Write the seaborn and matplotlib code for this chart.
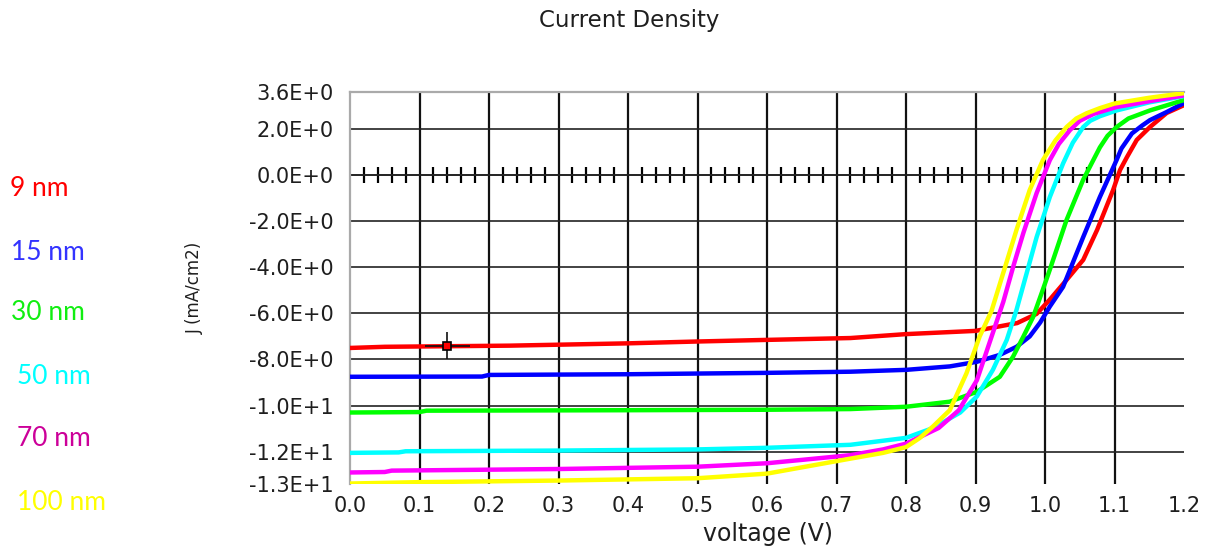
import numpy as np
import pandas as pd
import matplotlib
matplotlib.use("Agg")
import matplotlib.pyplot as plt
import seaborn as sns

# ---- data -------------------------------------------------------------
thickness_labels = ["9 nm", "15 nm", "30 nm", "50 nm", "70 nm", "100 nm"]
curve_colors = ["#ff0000", "#0000ff", "#00ff00", "#00ffff", "#ff00ff", "#ffff00"]
label_colors = ["#ff0000", "#3333ff", "#11ee11", "#00ffff", "#cc0099", "#ffff00"]

v_9nm = [0.0, 0.05, 0.23, 0.40, 0.50, 0.60, 0.72, 0.80, 0.90, 0.96, 0.988,
         1.007, 1.031, 1.055, 1.075, 1.098, 1.108, 1.118, 1.132, 1.151, 1.175, 1.20]
j_9nm = [-7.50, -7.45, -7.40, -7.30, -7.22, -7.15, -7.07, -6.90, -6.76, -6.42, -6.02,
         -5.40, -4.55, -3.68, -2.38, -0.65, 0.22, 0.78, 1.52, 2.08, 2.69, 3.03]

v_15nm = [0.0, 0.19, 0.20, 0.40, 0.60, 0.72, 0.80, 0.863, 0.902, 0.935, 0.959, 0.978,
          0.993, 1.007, 1.026, 1.055, 1.079, 1.103, 1.11, 1.125, 1.14, 1.151, 1.175, 1.20]
j_15nm = [-8.75, -8.74, -8.67, -8.64, -8.58, -8.53, -8.45, -8.30, -8.10, -7.80, -7.45, -7.00,
          -6.40, -5.70, -4.85, -2.69, -0.95, 0.65, 1.15, 1.80, 2.15, 2.38, 2.73, 3.12]

v_30nm = [0.0, 0.10, 0.11, 0.40, 0.60, 0.72, 0.80, 0.863, 0.902, 0.935, 0.954, 0.969,
          0.983, 0.996, 1.007, 1.031, 1.055, 1.079, 1.09, 1.103, 1.12, 1.151, 1.20]
j_30nm = [-10.30, -10.28, -10.22, -10.20, -10.18, -10.15, -10.05, -9.83, -9.40, -8.75, -7.88, -7.00,
          -6.15, -5.05, -4.10, -1.95, -0.20, 1.20, 1.70, 2.08, 2.45, 2.80, 3.25]

v_50nm = [0.0, 0.07, 0.08, 0.30, 0.50, 0.60, 0.72, 0.80, 0.839, 0.878, 0.902, 0.925,
          0.945, 0.959, 0.988, 1.007, 1.026, 1.04, 1.055, 1.065, 1.079, 1.103, 1.15, 1.20]
j_50nm = [-12.05, -12.03, -11.98, -11.95, -11.90, -11.83, -11.70, -11.40, -10.97, -10.30, -9.60, -8.45,
          -7.15, -5.85, -2.69, -0.95, 0.50, 1.40, 2.08, 2.35, 2.55, 2.80, 3.15, 3.42]

v_70nm = [0.0, 0.05, 0.06, 0.30, 0.50, 0.60, 0.72, 0.767, 0.80, 0.847, 0.876, 0.902,
          0.921, 0.940, 0.955, 0.969, 0.988, 1.007, 1.02, 1.036, 1.05, 1.07, 1.103, 1.15, 1.20]
j_70nm = [-12.90, -12.88, -12.82, -12.75, -12.65, -12.50, -12.15, -11.90, -11.65, -10.97, -10.20, -8.90,
          -7.20, -5.50, -3.90, -2.50, -0.78, 0.65, 1.35, 1.95, 2.35, 2.65, 2.95, 3.20, 3.45]

v_100nm = [0.0, 0.10, 0.30, 0.50, 0.60, 0.72, 0.767, 0.80, 0.82, 0.839, 0.863, 0.887, 0.906,
           0.923, 0.959, 0.978, 0.997, 1.015, 1.031, 1.045, 1.06, 1.079, 1.10, 1.15, 1.20]
j_100nm = [-13.38, -13.32, -13.25, -13.15, -12.95, -12.30, -12.05, -11.80, -11.40, -10.90, -10.20, -8.60,
           -7.00, -5.90, -2.38, -0.65, 0.65, 1.50, 2.08, 2.45, 2.68, 2.90, 3.10, 3.35, 3.55]

# cursor readout on the 9 nm curve
cursor_v = 0.14
cursor_j = -7.40

x_tick_values = [0.0, 0.1, 0.2, 0.3, 0.4, 0.5, 0.6, 0.7, 0.8, 0.9, 1.0, 1.1, 1.2]
x_tick_labels = ["0.0", "0.1", "0.2", "0.3", "0.4", "0.5", "0.6",
                 "0.7", "0.8", "0.9", "1.0", "1.1", "1.2"]
y_tick_values = [3.6, 2.0, 0.0, -2.0, -4.0, -6.0, -8.0, -10.0, -12.0, -13.4]
y_tick_labels = ["3.6E+0", "2.0E+0", "0.0E+0", "-2.0E+0", "-4.0E+0", "-6.0E+0",
                 "-8.0E+0", "-1.0E+1", "-1.2E+1", "-1.3E+1"]

# ---- assemble long-form table -----------------------------------------
series_v = [v_9nm, v_15nm, v_30nm, v_50nm, v_70nm, v_100nm]
series_j = [j_9nm, j_15nm, j_30nm, j_50nm, j_70nm, j_100nm]
frames = []
for name, vv, jj in zip(thickness_labels, series_v, series_j):
    frames.append(pd.DataFrame({"voltage": vv, "J": jj, "thickness": name}))
df = pd.concat(frames, ignore_index=True)

# ---- figure -------------------------------------------------------------
sns.set_style("white")
plt.rcParams["font.family"] = ["DejaVu Sans"]

fig = plt.figure(figsize=(12.16, 5.47), dpi=100)
W, H = 1216, 547
ax = fig.add_axes([350 / W, 1 - 484 / H, (1184 - 350) / W, (484 - 92) / H])

# grid lines (interior only)
for xv in x_tick_values[1:-1]:
    ax.axvline(xv, color="#111111", lw=1.6, zorder=1)
for yv in y_tick_values[1:-1]:
    ax.axhline(yv, color="#222222", lw=1.2, zorder=1)

sns.lineplot(data=df, x="voltage", y="J", hue="thickness",
             hue_order=thickness_labels, palette=curve_colors,
             estimator=None, sort=False, linewidth=3.2, legend=False,
             ax=ax, zorder=3)

# cursor marker with crosshair
ax.errorbar([cursor_v], [cursor_j], xerr=0.032, yerr=0.6, fmt="s", ms=6,
            mfc="#ff0000", mec="black", mew=1.2, ecolor="#111111",
            elinewidth=1.2, capsize=0, zorder=5)

ax.set_xlim(0, 1.2)
ax.set_ylim(-13.4, 3.6)
ax.set_xticks(x_tick_values, x_tick_labels)
ax.set_yticks(y_tick_values, y_tick_labels)
ax.tick_params(axis="y", direction="out", length=8.5, width=1.3, color="#444444",
               pad=3.5, labelsize=15, labelcolor="#1e1e1e")
ax.tick_params(axis="x", direction="out", length=6, width=1.3, color="#444444",
               pad=3, labelsize=15, labelcolor="#1e1e1e")

for side in ("right", "bottom"):
    ax.spines[side].set_visible(False)
for side in ("left", "top"):
    ax.spines[side].set_color("#aaaaaa")
    ax.spines[side].set_linewidth(1.6)

# minor ticks riding on the zero line
minor_x = [round(0.02 * k, 2) for k in range(1, 60) if k % 5 != 0]
zero_axis = ax.secondary_xaxis(0, transform=ax.transData)
zero_axis.set_xticks(minor_x, [""] * len(minor_x))
zero_axis.tick_params(direction="inout", length=11, width=1.6, color="black")
zero_axis.spines["bottom"].set_color("#222222")
zero_axis.spines["bottom"].set_linewidth(1.2)

ax.set_xlabel("voltage (V)", fontsize=17, color="#1e1e1e")
ax.xaxis.set_label_coords(0.501, -0.097)
ax.set_ylabel("J (mA/cm2)", fontsize=12, color="#1e1e1e")
ax.yaxis.set_label_coords(-0.175, 0.5)

fig.text(629 / W, 1 - 20 / H, "Current Density", ha="center", va="center",
         fontsize=16.5, color="#1e1e1e")

# coloured series labels on the left
label_pos = [(10, 188), (11, 252), (11, 313), (17, 377), (17, 438), (17, 502)]
for name, col, (px, py) in zip(thickness_labels, label_colors, label_pos):
    fig.text(px / W, 1 - py / H, name, ha="left", va="center", fontsize=19,
             color=col, family=["Lato", "DejaVu Sans"])

fig.savefig("out.png", dpi=100)
